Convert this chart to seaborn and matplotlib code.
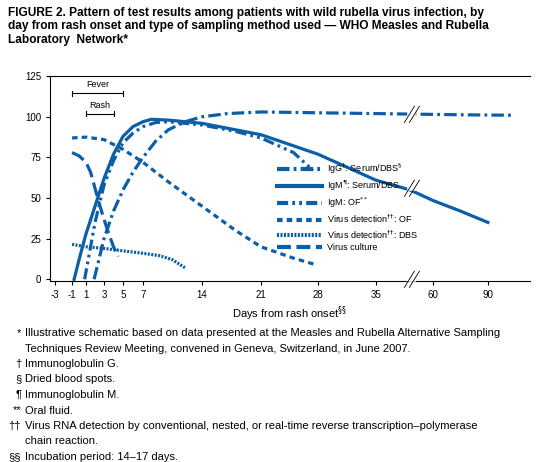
import numpy as np
import pandas as pd
import matplotlib
matplotlib.use('Agg')
import matplotlib.pyplot as plt
import seaborn as sns

BLUE = '#0b5ea8'
plt.rcParams['font.family'] = ['Liberation Sans', 'DejaVu Sans']
plt.rcParams['lines.scale_dashes'] = False

# Axis is broken: days mapped piecewise onto the drawn positions
TICK_DAYS = [-3, -1, 1, 3, 5, 7, 14, 21, 28, 35, 60, 90]
TICK_POS = [55, 72, 86, 104, 123, 143, 202, 261, 318, 376, 433, 488]
EXTRA_DAYS = [110]
EXTRA_POS = [525]

igg_days = [1.9, 3, 4, 5, 6, 7, 8.5, 10, 12, 14, 17, 21, 28, 35, 50, 60, 80, 103]
igg_vals = [0, 25, 42, 55, 66, 75, 85, 92, 97, 100, 102, 103, 102.5, 102, 101.7, 101.5, 101.2, 101]
igm_days = [-0.7, 0, 1, 2, 3, 4, 5, 6, 7, 8, 10, 14, 21, 28, 35, 50, 60, 75, 90]
igm_vals = [0, 12, 28, 45, 62, 77, 88, 94, 97, 98.5, 98, 96, 89, 77, 61, 55, 48.5, 42, 35]
igmof_days = [0.8, 2, 3, 4, 5, 6, 7, 8.5, 10, 14, 18, 21, 25, 27.4]
igmof_vals = [0, 35, 58, 73, 84, 90, 94, 96.5, 97, 95, 91, 87, 78, 67]
vof_days = [-1, 1, 3, 4, 5, 6, 7, 8.5, 10, 14, 18, 21, 25, 27.7]
vof_vals = [87, 87.5, 86, 83, 80, 76, 72, 66, 60, 45, 30, 20, 13, 9]
vdbs_days = [-1, 1, 3, 5, 7, 9, 10.5, 12]
vdbs_vals = [21.5, 20, 19, 17.5, 16, 14.5, 12, 7]
cult_days = [-1, 0, 1, 1.5, 2, 2.5, 3, 3.5, 4, 4.5]
cult_vals = [78, 76, 72, 66, 56, 46, 37, 28, 20, 14]

SERIES = [
    ('IgG$^{\u2020}$: Serum/DBS$^{\u00a7}$', igg_days, igg_vals, (0, (9, 3, 2, 3))),
    ('IgM$^{\u00b6}$: Serum/DBS', igm_days, igm_vals, (0, ())),
    ('IgM: OF$^{**}$', igmof_days, igmof_vals, (0, (8, 3, 2, 3, 2, 3))),
    ('Virus detection$^{\u2020\u2020}$: OF', vof_days, vof_vals, (0, (4, 3))),
    ('Virus detection$^{\u2020\u2020}$: DBS', vdbs_days, vdbs_vals, (0, (1.5, 1))),
    ('Virus culture', cult_days, cult_vals, (0, (10, 4))),
]


def to_pos(days):
    return np.interp(days, TICK_DAYS + EXTRA_DAYS, TICK_POS + EXTRA_POS)


fig = plt.figure(figsize=(5.56, 4.62), dpi=100)
ax = fig.add_axes([0.09, 0.392, 0.863, 0.443])

for label, d, v, ls in SERIES:
    df = pd.DataFrame({'pos': to_pos(d), 'val': v})
    sns.lineplot(data=df, x='pos', y='val', ax=ax, color=BLUE, lw=2.3,
                 label=label, estimator=None, sort=False)
    line = ax.lines[-1]
    if ls[1]:
        line.set_linestyle(ls)

ax.set_xlim(50, 530)
ax.set_ylim(-1, 125)
ax.set_xticks(TICK_POS)
ax.set_xticklabels([str(t) for t in TICK_DAYS], fontsize=7)
ax.set_yticks([0, 25, 50, 75, 100, 125])
ax.set_yticklabels(['0', '25', '50', '75', '100', '125'], fontsize=7)
ax.spines['right'].set_visible(False)
ax.tick_params(length=3, width=0.8)
ax.set_xlabel('Days from rash onset$^{\u00a7\u00a7}$', fontsize=8, labelpad=3)
ax.set_ylabel('')

# fever / rash brackets
for d0, d1, y, txt in [(-1, 5, 114.5, 'Fever'), (1, 4, 101.8, 'Rash')]:
    p0, p1 = to_pos([d0, d1])
    ax.plot([p0, p1], [y, y], color='k', lw=0.8)
    for p in (p0, p1):
        ax.plot([p, p], [y - 1.5, y + 1.5], color='k', lw=0.8)
    ax.text((p0 + p1) / 2, y + 2.5, txt, fontsize=6.5, ha='center', va='bottom')

# break marks
for bx, by in [(412, 0), (412, 56), (412, 101.5)]:
    ax.plot([bx - 1.5, bx + 1.5], [by, by], color='white', lw=4, zorder=3,
            clip_on=False)
    for off in (-2.5, 2.5):
        ax.plot([bx + off - 5, bx + off + 5], [by - 5, by + 5], color='k',
                lw=0.6, clip_on=False, zorder=4)

handles, labels = ax.get_legend_handles_labels()
leg = ax.legend(handles[:6], labels[:6], loc='upper left',
                bbox_to_anchor=(0.465, 0.6), frameon=False,
                fontsize=6.5, handlelength=5, labelspacing=0.3,
                handletextpad=0.6, borderaxespad=0)
for h, (_, _, _, ls) in zip(leg.get_lines(), SERIES):
    h.set_linewidth(3)
    if ls[1]:
        h.set_linestyle(ls)

fig.text(0.015, 0.985,
         'FIGURE 2. Pattern of test results among patients with wild rubella virus infection, by\n'
         'day from rash onset and type of sampling method used \u2014 WHO Measles and Rubella\n'
         'Laboratory  Network*',
         fontsize=8.6, fontweight='bold', va='top', ha='left', linespacing=1.15)

notes = [
    ('*', 'Illustrative schematic based on data presented at the Measles and Rubella Alternative Sampling'),
    ('', 'Techniques Review Meeting, convened in Geneva, Switzerland, in June 2007.'),
    ('\u2020', 'Immunoglobulin G.'),
    ('\u00a7', 'Dried blood spots.'),
    ('\u00b6', 'Immunoglobulin M.'),
    ('**', 'Oral fluid.'),
    ('\u2020\u2020', 'Virus RNA detection by conventional, nested, or real-time reverse transcription\u2013polymerase'),
    ('', 'chain reaction.'),
    ('\u00a7\u00a7', 'Incubation period: 14\u201317 days.'),
]
for i, (mark, txt) in enumerate(notes):
    y = 1 - (333 + i * 15.5) / 462
    fig.text(0.038, y, mark, fontsize=8, ha='right', va='center')
    fig.text(0.045, y, txt, fontsize=8, ha='left', va='center')

fig.savefig('out.png', dpi=100)
